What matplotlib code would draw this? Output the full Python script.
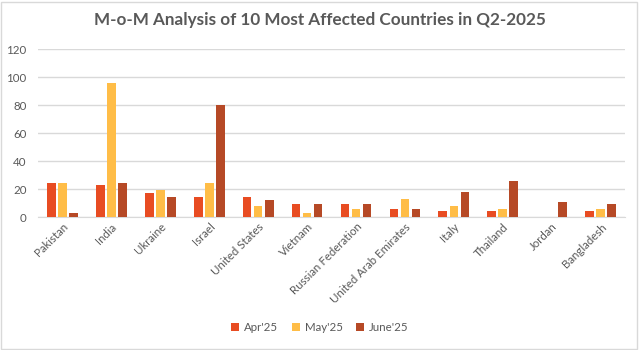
import numpy as np
import matplotlib.pyplot as plt
from matplotlib.patches import Rectangle

countries = ["Pakistan", "India", "Ukraine", "Israel", "United States", "Vietnam",
             "Russian Federation", "United Arab Emirates", "Italy", "Thailand",
             "Jordan", "Bangladesh"]
apr = [24, 23, 17, 14, 14, 9, 9, 6, 4, 4, 0, 4]
may = [24, 96, 19, 24, 8, 3, 6, 13, 8, 6, 0, 6]
june = [3, 24, 14, 80, 12, 9, 9, 6, 18, 26, 11, 9]
series_names = ["Apr'25", "May'25", "June'25"]
colors = ["#E84C22", "#FFBD47", "#B64926"]

text_color = "#595959"
grid_color = "#D9D9D9"
plt.rcParams['font.family'] = ['Lato', 'DejaVu Sans']

fig = plt.figure(figsize=(6.4, 3.5), dpi=100)
ax = fig.add_axes([0.059, 0.38, 0.918, 0.48])

x = np.arange(len(countries))
w = 0.18
step = 0.225
for i, (vals, name, c) in enumerate(zip([apr, may, june], series_names, colors)):
    ax.bar(x + (i - 1) * step, vals, width=w, color=c, label=name, zorder=3)

ax.set_xlim(-0.5, len(countries) - 0.5)
ax.set_ylim(0, 120)
ax.set_yticks(range(0, 121, 20))
ax.yaxis.grid(True, color=grid_color, linewidth=1, zorder=0)
for s in ["top", "right", "left"]:
    ax.spines[s].set_visible(False)
ax.spines["bottom"].set_color(grid_color)
ax.tick_params(axis="both", length=0, colors=text_color, labelsize=8.3)
ax.tick_params(axis="y", pad=8)
ax.tick_params(axis="x", pad=3)
ax.set_xticks(x)
ax.set_xticklabels(countries, rotation=45, ha="right", rotation_mode="anchor")

fig.suptitle("M-o-M Analysis of 10 Most Affected Countries in Q2-2025",
             x=0.5, y=0.965, fontsize=12.3, fontweight="bold", color=text_color)

leg = fig.legend(loc="center", bbox_to_anchor=(0.5, 0.065), ncol=3, frameon=False,
                 fontsize=8.3, handlelength=0.7, handleheight=0.7, handletextpad=0.4,
                 columnspacing=1.2)
for t in leg.get_texts():
    t.set_color(text_color)

fig.patches.append(Rectangle((0.002, 0.003), 0.994, 0.992, transform=fig.transFigure,
                             fill=False, edgecolor=grid_color, linewidth=1))

fig.savefig("out.png", dpi=100)
